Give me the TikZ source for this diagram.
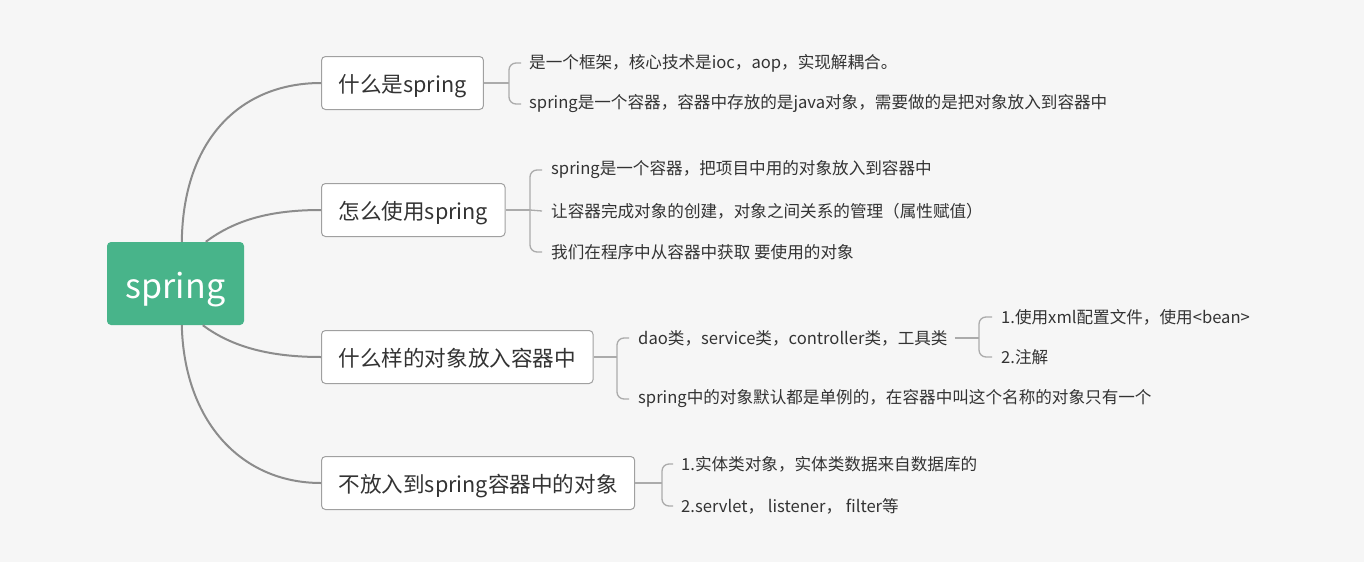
\documentclass[tikz,border=0pt]{standalone}
\usepackage{fontspec}
\setmainfont{Noto Sans CJK SC}
\usetikzlibrary{calc}
\definecolor{bg}{HTML}{F6F6F6}
\definecolor{rootgreen}{HTML}{48B48A}
\definecolor{txt}{HTML}{333333}
\definecolor{edge}{HTML}{8C8C8C}
\definecolor{brc}{HTML}{ABABAB}
\definecolor{boxline}{HTML}{A0A0A0}
\tikzset{
  rootbox/.style={fill=rootgreen, rounded corners=4pt, minimum width=137pt, minimum height=83pt, inner sep=0pt, text=white, font=\fontsize{34}{34}\selectfont},
  branchbox/.style={draw=boxline, line width=1pt, fill=white, rounded corners=4pt, minimum height=53pt, inner xsep=17pt, inner ysep=0pt, text height=21pt, text depth=2pt, anchor=west, text=txt, font=\fontsize{21.6}{21.6}\selectfont},
  leaf/.style={anchor=west, inner sep=0pt, text=txt, font=\fontsize{16.6}{16.6}\selectfont},
  mainedge/.style={draw=edge, line width=2pt},
  brace/.style={draw=brc, line width=1.3pt, rounded corners=7pt},
}
\begin{document}
\begin{tikzpicture}[x=1pt,y=-1pt]
\fill[bg] (0,0) rectangle (1364,562);
\useasboundingbox (0,0) rectangle (1364,562);

\node[rootbox] (root) at (175.5,283.5) {\raisebox{-15pt}[0pt][0pt]{spring}};

\node[branchbox] (b1) at (321,83) {什么是spring};
\node[branchbox] (b2) at (321,210) {怎么使用spring};
\node[branchbox] (b3) at (321,357) {什么样的对象放入容器中};
\node[branchbox] (b4) at (321,483) {不放入到spring容器中的对象};

% root connectors
\draw[mainedge] ([xshift=75pt]root.north west) .. controls (183,140) and (240,83) .. (b1.west);
\draw[mainedge] ([xshift=99pt]root.north west) .. controls (235,220) and (270,210) .. (b2.west);
\draw[mainedge] ([xshift=96pt]root.south west) .. controls (232,347) and (270,357) .. (b3.west);
\draw[mainedge] ([xshift=75pt]root.south west) .. controls (184,420) and (240,483) .. (b4.west);

% leaves
\node[leaf] (l11) at (529,63) {是一个框架，核心技术是ioc，aop，实现解耦合。};
\node[leaf] (l12) at (529,104) {spring是一个容器，容器中存放的是java对象，需要做的是把对象放入到容器中};

\node[leaf] (l21) at (551,170) {spring是一个容器，把项目中用的对象放入到容器中};
\node[leaf] (l22) at (551,211) {让容器完成对象的创建，对象之间关系的管理（属性赋值）};
\node[leaf] (l23) at (551,252) {我们在程序中从容器中获取 要使用的对象};

\node[leaf] (l31) at (638,338) {dao类，service类，controller类，工具类};
\node[leaf] (l32) at (638,399) {spring中的对象默认都是单例的，在容器中叫这个名称的对象只有一个};

\node[leaf] (l311) at (1001,317) {1.使用xml配置文件，使用<bean>};
\node[leaf] (l312) at (1001,357) {2.注解};

\node[leaf] (l41) at (681,464) {1.实体类对象，实体类数据来自数据库的};
\node[leaf] (l42) at (681,506) {2.servlet，  listener，  filter等};

% brace joints
\coordinate (j1) at (509,83);
\coordinate (j2) at (530,210);
\coordinate (j3) at (617,357);
\coordinate (j31) at (979,338);
\coordinate (j4) at (662,483);

\draw[brace] (b1.east) -- (j1);
\draw[brace] ([xshift=-8pt]l11.west) -| (j1) |- ([xshift=-8pt]l12.west);

\draw[brace] (b2.east) -- (j2);
\draw[brace] ([xshift=-9pt]l21.west) -| (j2) |- ([xshift=-9pt]l23.west);
\draw[brace] (j2) -- ([xshift=-9pt]l22.west);

\draw[brace] (b3.east) -- (j3);
\draw[brace] ([xshift=-9pt]l31.west) -| (j3) |- ([xshift=-9pt]l32.west);

\draw[brace] ([xshift=7pt]l31.east) -- (j31);
\draw[brace] ([xshift=-9pt]l311.west) -| (j31) |- ([xshift=-9pt]l312.west);

\draw[brace] (b4.east) -- (j4);
\draw[brace] ([xshift=-8pt]l41.west) -| (j4) |- ([xshift=-8pt]l42.west);
\end{tikzpicture}
\end{document}
